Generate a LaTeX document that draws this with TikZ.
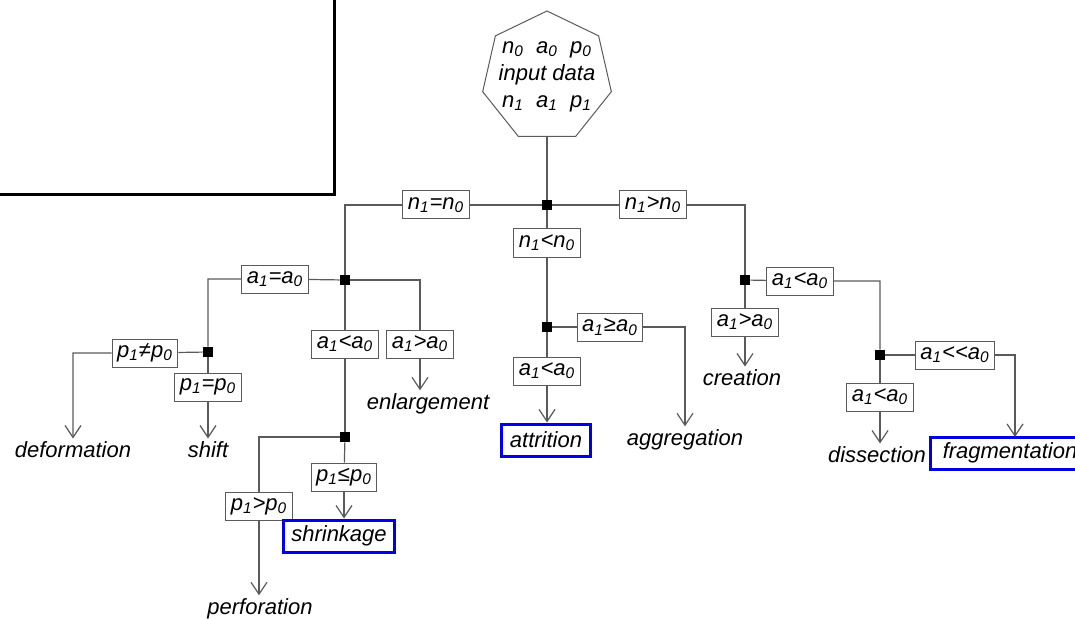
\documentclass[tikz,border=0pt]{standalone}
\usepackage{fontspec}
\setmainfont{Liberation Sans}
\usepackage{tikz}
\usetikzlibrary{arrows,arrows.meta,shapes,positioning}
\usepackage{xcolor}
\definecolor{trline}{RGB}{90,90,90}
\definecolor{trblue}{RGB}{0,0,230}
\newcommand{\vsub}[2]{#1\textsubscript{#2}}
\tikzstyle{link} = [draw=trline, line width=0.6pt]
\tikzstyle{arrow} = [link, -{Straight Barb[length=6pt,width=8pt]}]
\tikzstyle{cond} = [rectangle, draw=trline, line width=0.5pt, inner xsep=2.5pt, inner ysep=1.5pt, minimum height=14pt, fill=white, font=\itshape\fontsize{11}{13}\selectfont]
\tikzstyle{junction} = [rectangle, fill=black, minimum size=5pt, inner sep=0pt]
\tikzstyle{outcome} = [inner sep=1.5pt, font=\itshape\fontsize{11}{13}\selectfont]
\tikzstyle{marked} = [outcome, draw=trblue, line width=1.5pt, inner xsep=4pt, minimum height=16pt]
\tikzstyle{hepta} = [regular polygon, regular polygon sides=7, draw=trline, line width=0.5pt, minimum size=66pt, inner sep=0pt]
\tikzstyle{heptatext} = [align=center, inner sep=0pt, font=\itshape\fontsize{11}{13.5}\selectfont]

\begin{document}
\begin{tikzpicture}[x=0.5pt, y=-0.5pt]
\useasboundingbox (0,0) rectangle (1075,620);
% frame corner
\draw[line width=1.5pt] (-10,195) -- (334,195) -- (334,-10);

% root
\node[hepta, label={[heptatext]center:{\vsub{n}{0}\ \ \vsub{a}{0}\ \ \vsub{p}{0}\\input data\\\vsub{n}{1}\ \ \vsub{a}{1}\ \ \vsub{p}{1}}}] (input) at (547,77) {};
\node[junction] (j0) at (547,205) {};
\node[cond] (neq) at (436,205) {\vsub{n}{1}=\vsub{n}{0}};
\node[cond] (ngt) at (653,205) {\vsub{n}{1}>\vsub{n}{0}};
\node[cond] (nlt) at (547,243) {\vsub{n}{1}<\vsub{n}{0}};
\node[junction] (j1) at (345,280) {};
\node[junction] (j5) at (547,327) {};
\node[junction] (j6) at (745,280) {};
\draw[link] (input) -- (j0);
\draw[link] (j0) -- (neq) -| (j1);
\draw[link] (j0) -- (ngt) -| (j6);
\draw[link] (j0) -- (nlt) -- (j5);

% n1=n0 branch
\node[cond] (aeq) at (275,279) {\vsub{a}{1}=\vsub{a}{0}};
\node[junction] (j2) at (208,352) {};
\node[cond] (agt) at (420,344) {\vsub{a}{1}>\vsub{a}{0}};
\node[outcome] (enl) at (428,404) {enlargement};
\node[cond] (alt) at (345,344) {\vsub{a}{1}<\vsub{a}{0}};
\node[junction] (j3) at (345,437) {};
\draw[link] (j1) -- (aeq) -| (j2);
\draw[link] (j1) -| (agt);
\draw[arrow] (agt) -- (agt |- enl.north);
\draw[link] (j1) -- (alt) -- (j3);

\node[cond] (pne) at (145,353) {\vsub{p}{1}≠\vsub{p}{0}};
\node[outcome] (defo) at (73,450) {deformation};
\node[cond] (peq) at (208,387) {\vsub{p}{1}=\vsub{p}{0}};
\node[outcome] (shift) at (208,450) {shift};
\draw[arrow] (j2) -- (pne) -| (defo);
\draw[link] (j2) -- (peq);
\draw[arrow] (peq) -- (shift);

\node[cond] (pgt) at (259,506) {\vsub{p}{1}>\vsub{p}{0}};
\node[outcome] (perf) at (260,609) {perforation};
\node[cond] (ple) at (344,477) {\vsub{p}{1}≤\vsub{p}{0}};
\node[marked] (shr) at (339,536) {shrinkage};
\draw[link] (j3) -| (pgt);
\draw[arrow] (pgt) -- (pgt |- perf.north);
\draw[link] (j3) -- (ple);
\draw[arrow] (ple) -- (ple |- shr.north);

% n1<n0 branch
\node[cond] (age) at (610,327) {\vsub{a}{1}≥\vsub{a}{0}};
\node[outcome] (agg) at (685,440) {aggregation};
\node[cond] (alt2) at (547,371) {\vsub{a}{1}<\vsub{a}{0}};
\node[marked] (att) at (546,440) {attrition};
\draw[arrow] (j5) -- (age) -| (agg);
\draw[link] (j5) -- (alt2);
\draw[arrow] (alt2) -- (alt2 |- att.north);

% n1>n0 branch
\node[cond] (alt3) at (800,281) {\vsub{a}{1}<\vsub{a}{0}};
\node[junction] (j7) at (880,355) {};
\node[cond] (agt2) at (745,322) {\vsub{a}{1}>\vsub{a}{0}};
\node[outcome] (cre) at (742,378) {creation};
\draw[link] (j6) -- (alt3) -| (j7);
\draw[link] (j6) -- (agt2);
\draw[arrow] (agt2) -- (agt2 |- cre.north);

\node[cond] (all) at (955,355) {\vsub{a}{1}<{}<\vsub{a}{0}};
\node[marked, minimum width=80pt] (frag) at (1010,453) {fragmentation};
\node[cond] (alt4) at (880,397) {\vsub{a}{1}<\vsub{a}{0}};
\node[outcome] (diss) at (877,455) {dissection};
\coordinate (fragin) at (1015,437);
\draw[arrow] (j7) -- (all) -| (fragin);
\draw[link] (j7) -- (alt4);
\draw[arrow] (alt4) -- (alt4 |- diss.north);
\end{tikzpicture}
\end{document}
